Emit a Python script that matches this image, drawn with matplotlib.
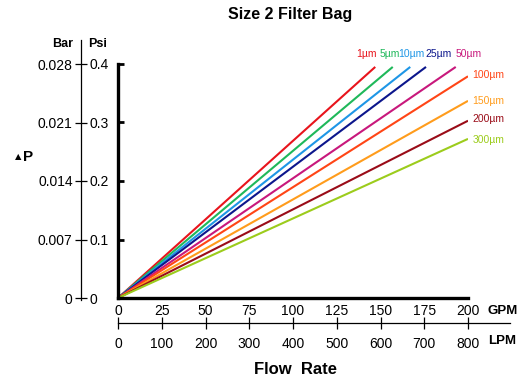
import matplotlib
matplotlib.use("Agg")
import matplotlib.pyplot as plt

plt.rcParams['font.family'] = ['Liberation Sans', 'DejaVu Sans']

# data (GPM vs psi, lines from origin)
labels = ['1µm', '5µm', '10µm', '25µm', '50µm', '100µm', '150µm', '200µm', '300µm']
colors = ['#e8141c', '#1fb85a', '#1e96e6', '#0c168c', '#c8187c',
          '#ff4516', '#ff9c1c', '#9a0c18', '#9ccc1c']
end_gpm = [147, 157, 167, 176, 193, 200, 200, 200, 200]
end_psi = [0.395, 0.395, 0.395, 0.395, 0.395, 0.379, 0.337, 0.303, 0.272]
# label offsets from line end, in points
label_dx = [-6, -2, 1, 9, 9, 3, 3, 3, 3]
label_dy = [6, 6, 6, 6, 6, 1, 0, 1, -1]

gpm_ticks = [0, 25, 50, 75, 100, 125, 150, 175, 200]
lpm_ticks = [0, 100, 200, 300, 400, 500, 600, 700, 800]
psi_ticks = [0, 0.1, 0.2, 0.3, 0.4]
bar_labels = ['0', '0.007', '0.014', '0.021', '0.028']
psi_labels = ['0', '0.1', '0.2', '0.3', '0.4']

W, H = 529, 386
fig = plt.figure(figsize=(W / 100, H / 100), dpi=100)

x0, x1 = 118, 468
y0, y1 = 298, 64
ax = fig.add_axes([x0 / W, 1 - y0 / H, (x1 - x0) / W, (y0 - y1) / H])
for gx, py, c in zip(end_gpm, end_psi, colors):
    ax.plot([0, gx], [0, py], color=c, lw=1.5, solid_capstyle='butt')
for lab, gx, py, c, dx, dy in zip(labels, end_gpm, end_psi, colors, label_dx, label_dy):
    ha = 'center' if gx < 200 else 'left'
    va = 'bottom' if gx < 200 else 'center'
    ax.annotate(lab, (gx, py), xytext=(dx, dy), textcoords='offset points',
                ha=ha, va=va, color=c, fontsize=7.5, annotation_clip=False)
ax.set_xlim(0, 200)
ax.set_ylim(0, 0.4)
for s in ['top', 'right']:
    ax.spines[s].set_visible(False)
for s in ['left', 'bottom']:
    ax.spines[s].set_linewidth(2.4)
ax.set_xticks(gpm_ticks)
ax.set_xticklabels([str(t) for t in gpm_ticks], fontsize=10)
ax.tick_params(axis='x', which='major', length=0, pad=4)
ax.set_xticks([50, 100, 150, 200], minor=True)
ax.set_yticks([0.1, 0.2, 0.3, 0.4], minor=True)
ax.set_yticks([])
ax.tick_params(which='minor', direction='in', length=4, width=2)
fig.text(488 / W, 1 - 311 / H, 'GPM', fontsize=9.5, fontweight='bold', ha='left', va='center')

# LPM axis
lx1 = 510
axl = fig.add_axes([x0 / W, 1 - 323 / H, (lx1 - x0) / W, 0.0001])
axl.set_xlim(0, 800 * (lx1 - x0) / (x1 - x0))
axl.set_yticks([])
for s in ['top', 'left', 'right']:
    axl.spines[s].set_visible(False)
axl.spines['bottom'].set_linewidth(0.9)
axl.set_xticks(lpm_ticks)
axl.set_xticklabels([str(t) for t in lpm_ticks], fontsize=10)
axl.tick_params(axis='x', direction='inout', length=8, width=0.9, pad=6)
axl.patch.set_visible(False)
fig.text(488 / W, 1 - 341 / H, 'LPM', fontsize=9.5, fontweight='bold', ha='left', va='center')

# Bar / Psi axis
bx = 81
top_px, bot_px = 40, 300
ppx = (y0 - y1) / 0.4
axb = fig.add_axes([bx / W, 1 - bot_px / H, 0.0001, (bot_px - top_px) / H])
axb.set_ylim(-(bot_px - y0) / ppx, (y0 - top_px) / ppx)
axb.set_xticks([])
for s in ['top', 'bottom', 'right']:
    axb.spines[s].set_visible(False)
axb.spines['left'].set_linewidth(0.9)
axb.set_yticks(psi_ticks)
axb.set_yticklabels(bar_labels, fontsize=10)
axb.tick_params(axis='y', direction='inout', length=8, width=0.9, pad=2)
axb.patch.set_visible(False)
axp = axb.twinx()
axp.set_ylim(axb.get_ylim())
for s in axp.spines.values():
    s.set_visible(False)
axp.set_yticks(psi_ticks)
axp.set_yticklabels(psi_labels, fontsize=10)
axp.tick_params(axis='y', length=0, pad=6)

fig.text(63 / W, 1 - 44 / H, 'Bar', fontsize=9, fontweight='bold', ha='center', va='center')
fig.text(98 / W, 1 - 44 / H, 'Psi', fontsize=9, fontweight='bold', ha='center', va='center')
fig.text(18 / W, 1 - 157 / H, '▲', fontsize=6, ha='center', va='center', family='DejaVu Sans')
fig.text(28 / W, 1 - 157 / H, 'P', fontsize=11, fontweight='bold', ha='center', va='center')

fig.text(290 / W, 1 - 14 / H, 'Size 2 Filter Bag', fontsize=11.5, fontweight='bold',
         ha='center', va='center')
fig.text(296 / W, 1 - 370 / H, 'Flow  Rate', fontsize=12, fontweight='bold',
         ha='center', va='center')

fig.savefig('out.png', dpi=100)
